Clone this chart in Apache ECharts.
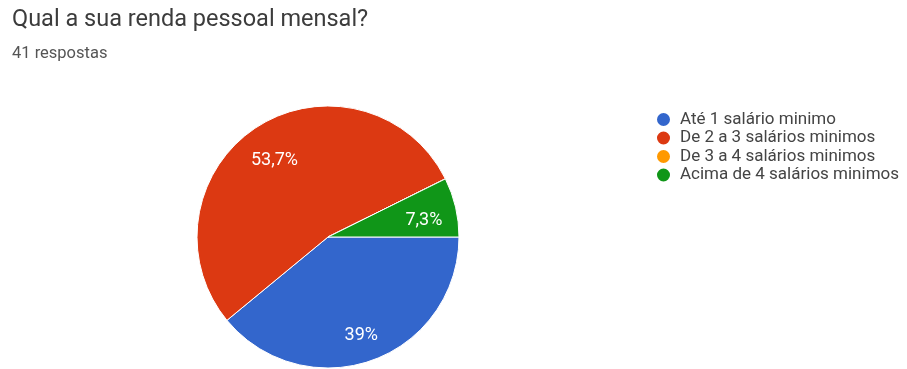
<!DOCTYPE html>
<html>
<head>
<meta charset="utf-8">
<script src="https://cdn.jsdelivr.net/npm/echarts@6/dist/echarts.min.js"></script>
<style>
html, body { margin: 0; padding: 0; background: #fff; }
#pieRenda { width: 907px; height: 369px; }
</style>
</head>
<body>
<div id="pieRenda"></div>
<script>
// --- dados ---
var categorias = ["Até 1 salário minimo", "De 2 a 3 salários minimos", "De 3 a 4 salários minimos", "Acima de 4 salários minimos"];
var respostas = [16, 22, 0, 3];
var cores = ["#3366cc", "#dc3912", "#ff9900", "#109618"];
var total = 41;

var dados = categorias.map(function (nome, i) {
	return { name: nome, value: respostas[i] };
});

// 53.7 -> "53,7%", 39.0 -> "39%"
function pct(p) {
	if (!p) return '';
	var s = (Math.round(p * 10) / 10).toFixed(1).replace(/\.0$/, '');
	return s.replace('.', ',') + '%';
}

var myChart = echarts.init(document.getElementById('pieRenda'));
myChart.setOption({
	color: cores,
	animation: false,
	title: {
		text: 'Qual a sua renda pessoal mensal?',
		subtext: total + ' respostas',
		left: 7,
		top: 3,
		itemGap: 13,
		textStyle: {
			fontFamily: 'Roboto',
			fontSize: 23.5,
			fontWeight: 'normal',
			color: '#3c3c3c'
		},
		subtextStyle: {
			fontFamily: 'Roboto',
			fontSize: 16.5,
			color: '#555'
		}
	},
	legend: {
		data: categorias,
		orient: 'vertical',
		left: 650,
		top: 106,
		icon: 'circle',
		itemWidth: 15,
		itemHeight: 15,
		itemGap: 1.5,
		textStyle: {
			fontFamily: 'Roboto',
			fontSize: 17,
			lineHeight: 16,
			color: '#444',
			padding: [0, 0, 0, 4]
		}
	},
	series: [
		{
			name: 'renda',
			type: 'pie',
			center: [328, 237],
			radius: 131,
			startAngle: 0,
			clockwise: true,
			stillShowZeroSum: true,
			label: { show: false },
			labelLine: { show: false },
			itemStyle: { borderColor: '#fff', borderWidth: 1 },
			emphasis: { disabled: true },
			data: dados
		},
		{
			// só para posicionar os rótulos mais perto da borda
			name: 'rotulos',
			type: 'pie',
			center: [328, 237],
			radius: [60, 131],
			startAngle: 0,
			clockwise: true,
			silent: true,
			itemStyle: { color: 'transparent' },
			label: {
				show: true,
				position: 'inside',
				color: '#fff',
				fontFamily: 'Roboto',
				fontSize: 18,
				offset: [0, 6],
				formatter: function (p) { return pct(p.percent); }
			},
			labelLine: { show: false },
			emphasis: { disabled: true },
			data: dados
		}
	]
});
</script>
</body>
</html>
